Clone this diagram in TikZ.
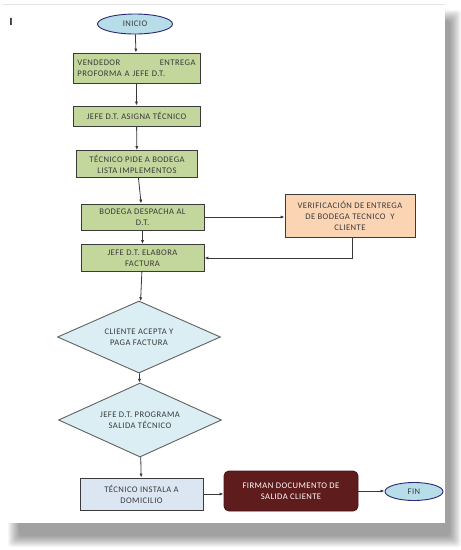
\documentclass[tikz,border=0pt]{standalone}
\usepackage{fontspec}
\setmainfont{Carlito}
\usetikzlibrary{shapes.geometric,arrows.meta}
\definecolor{gbox}{HTML}{C3D69B}
\definecolor{ell}{HTML}{B7DDE8}
\definecolor{dia}{HTML}{DBEEF4}
\definecolor{peach}{HTML}{FBD4B4}
\definecolor{inst}{HTML}{DCE6F2}
\definecolor{maroon}{HTML}{5E1C1C}
\definecolor{edge}{HTML}{3A3A3A}
\definecolor{txt}{HTML}{3A3A3A}
\tikzset{
  base/.style={draw=edge, line width=0.9pt, text=txt, font=\fontsize{8.6}{11}\selectfont\addfontfeature{LetterSpace=5}, inner sep=2pt, align=center},
  gstep/.style={base, rectangle, fill=gbox},
  term/.style={base, ellipse, fill=ell, draw=edge!70!blue, inner sep=0pt},
  decis/.style={base, diamond, shape aspect=2.26, fill=dia, draw=edge!80, inner sep=0pt},
  conn/.style={draw=edge, line width=0.8pt, -{Latex[length=4pt,width=3.2pt]}}
}
\begin{document}
\begin{tikzpicture}[x=1pt,y=-1pt]
\useasboundingbox (0,0) rectangle (461,550);
\fill[white] (0,0) rectangle (461,550);
% page shadow
\foreach \i in {0,...,11}
  \fill[black,opacity=0.035,rounded corners=3] (8+\i,10+\i) rectangle (461-\i,547-\i);
\fill[white] (2,4) rectangle (445,523);
\draw[black!10,line width=0.5pt] (2,4) -- (445,4);
\node[font=\fontsize{11}{12}\selectfont\bfseries, text=black] (lbl) at (11,22) {I};
% nodes
\node[term, minimum width=75, minimum height=20] (inicio) at (135,24) {INICIO};
\node[gstep, minimum width=127, minimum height=30, text width=118, align=left] (b1) at (136.5,68) {VENDEDOR\hfill ENTREGA\\PROFORMA A JEFE D.T.};
\node[gstep, minimum width=127, minimum height=20] (b2) at (136.5,116) {JEFE D.T. ASIGNA TÉCNICO};
\node[gstep, minimum width=121, minimum height=27] (b3) at (137,164) {TÉCNICO PIDE A BODEGA\\LISTA IMPLEMENTOS};
\node[gstep, minimum width=123, minimum height=26] (b4) at (142.5,217) {BODEGA DESPACHA AL\\D.T.};
\node[base, fill=peach, minimum width=130, minimum height=43] (ver) at (350,215.5) {VERIFICACIÓN\ DE ENTREGA\\DE BODEGA TECNICO\ \ Y\\CLIENTE};
\node[gstep, minimum width=123, minimum height=27] (b5) at (142.5,258) {JEFE D.T. ELABORA\\FACTURA};
\node[decis, minimum width=163, minimum height=72] (d1) at (139,337) {CLIENTE ACEPTA\ Y\\PAGA FACTURA};
\node[decis, minimum width=163, minimum height=74] (d2) at (140,420) {JEFE D.T. PROGRAMA\\SALIDA TÉCNICO};
\node[base, fill=inst, minimum width=123, minimum height=32] (ins) at (141.5,494) {TÉCNICO INSTALA A\\DOMICILIO};
\node[base, fill=maroon, draw=maroon!80!black, text=white, rounded corners=5, minimum width=134, minimum height=40] (fir) at (291,491) {FIRMAN DOCUMENTO DE\\SALIDA CLIENTE};
\node[term, minimum width=58, minimum height=18] (fin) at (414,491.5) {FIN};
\coordinate (vb) at (352,258);
% connectors
\draw[conn] (inicio) -- (b1);
\draw[conn] (b1) -- (b2);
\draw[conn] (b2) -- (b3);
\draw[conn] (b3) -- (b4);
\draw[conn] (b4) -- (b5);
\draw[conn] (b4.east) -- (b4.east -| ver.west);
\draw[conn] (ver.south -| vb) -- (vb) -- (vb -| b5.east);
\draw[conn] (b5) -- (d1);
\draw[conn] (d1) -- (d2);
\draw[conn] (d2) -- (ins);
\draw[conn] (ins.east) -- (ins.east -| fir.west);
\draw[conn] (fir.east) -- (fir.east -| fin.west);
\end{tikzpicture}
\end{document}
